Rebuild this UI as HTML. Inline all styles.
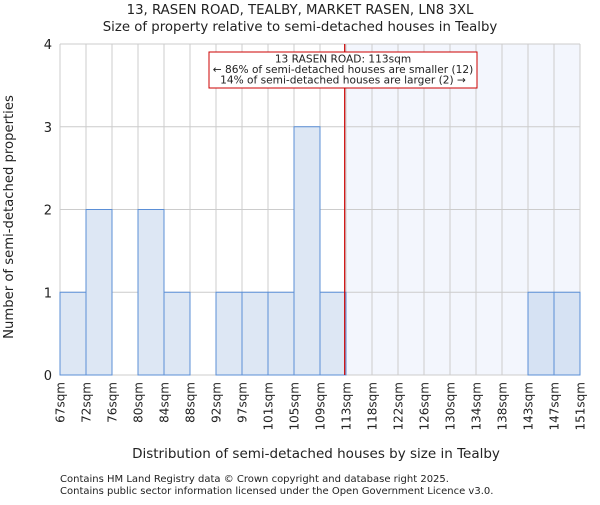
<!DOCTYPE html>
<html><head><meta charset="utf-8"><style>
body{margin:0;background:#fff}
svg text{font-family:"DejaVu Sans","Liberation Sans",sans-serif;fill:#222}
</style></head><body>
<svg width="600" height="500" id="c">
<text x="300" y="14" font-size="13.3" text-anchor="middle">13, RASEN ROAD, TEALBY, MARKET RASEN, LN8 3XL</text>
<text x="300" y="31" font-size="13.3" text-anchor="middle">Size of property relative to semi-detached houses in Tealby</text>
<g id="plot"></g>
<text x="316" y="458" font-size="13.5" text-anchor="middle">Distribution of semi-detached houses by size in Tealby</text>
<text transform="translate(13,217) rotate(-90)" font-size="13.2" text-anchor="middle">Number of semi-detached properties</text>
<text x="60" y="482" font-size="10">Contains HM Land Registry data © Crown copyright and database right 2025.</text>
<text x="60" y="494" font-size="10">Contains public sector information licensed under the Open Government Licence v3.0.</text>
</svg>
<script>
const edgeLabels=["67sqm","72sqm","76sqm","80sqm","84sqm","88sqm","92sqm","97sqm","101sqm","105sqm","109sqm","113sqm","118sqm","122sqm","126sqm","130sqm","134sqm","138sqm","143sqm","147sqm","151sqm"];
const counts=[1,2,0,2,1,0,1,1,1,3,1,0,0,0,0,0,0,0,1,1];
const yTicks=[0,1,2,3,4];
const markerIndex=10.95;
const NS="http://www.w3.org/2000/svg";
const g=document.getElementById('plot');
const L=60,R=580,T=44,B=375,n=counts.length,bw=(R-L)/n;
const x=i=>L+i*bw, y=v=>B-(B-T)*v/4;
function mk(t,a){const e=document.createElementNS(NS,t);for(const k in a)e.setAttribute(k,a[k]);g.appendChild(e);return e;}
const mx=x(markerIndex);
const sh=mk('rect',{x:mx,y:T,width:R-mx,height:B-T,fill:'#f3f6fd'});


for(let i=0;i<=n;i++){const l=mk('line',{x1:x(i),x2:x(i),y1:T,y2:B,stroke:'#cccccc'});

}
yTicks.forEach(v=>{const l=mk('line',{x1:L,x2:R,y1:y(v),y2:y(v),stroke:'#cccccc'});


const t=mk('text',{x:L-8,y:y(v)+5,'font-size':13,'text-anchor':'end'});t.textContent=v;

});
counts.forEach((c,i)=>{if(!c)return;const r=mk('rect',{x:x(i),y:y(c),width:bw,height:y(0)-y(c),fill:i>=markerIndex?'#d6e2f3':'#dde7f4',stroke:'#5b8fd6','stroke-width':1});

});
edgeLabels.forEach((s,i)=>{const t=mk('text',{transform:`translate(${x(i)+4.5},382) rotate(-90)`,'font-size':12,'text-anchor':'end'});t.textContent=s;

});
const ml=mk('line',{x1:mx,x2:mx,y1:T,y2:B,stroke:'#cc0000','stroke-width':1.2});


const bx=mk('rect',{x:209,y:52,width:268,height:36,fill:'#fff',stroke:'#cc0000'});


["13 RASEN ROAD: 113sqm","← 86% of semi-detached houses are smaller (12)","14% of semi-detached houses are larger (2) →"].forEach((s,i)=>{const t=mk('text',{x:343,y:62.5+i*10.5,'font-size':10.6,'text-anchor':'middle'});t.textContent=s;

});
</script>
</body></html>
